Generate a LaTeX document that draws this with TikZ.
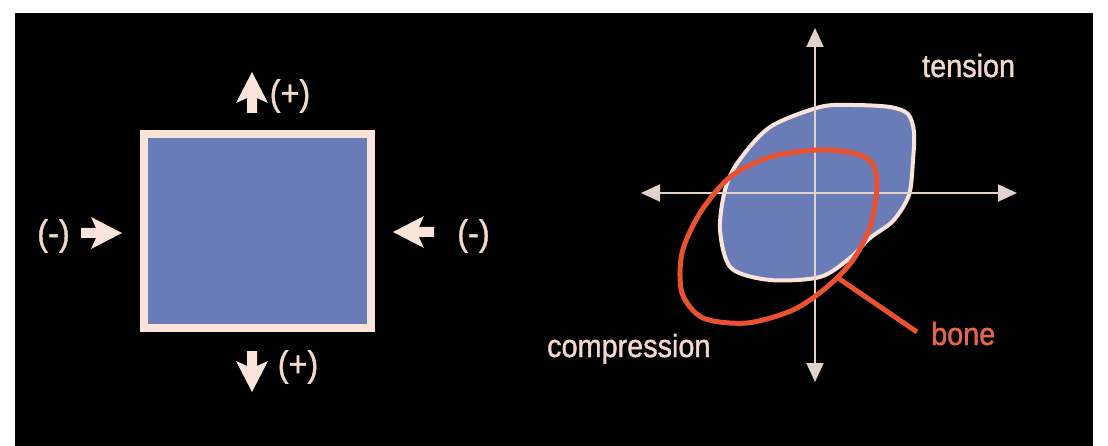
\documentclass[tikz,border=0pt]{standalone}
\usepackage{fontspec}
\setmainfont[FakeStretch=0.9,FakeBold=1.2]{Liberation Sans}
\usetikzlibrary{arrows.meta}
\definecolor{bluefill}{RGB}{106,124,184}
\definecolor{pale}{RGB}{250,228,218}
\definecolor{txt}{RGB}{242,216,204}
\definecolor{bonered}{RGB}{232,82,48}
\definecolor{bonetxt}{RGB}{226,104,72}
\definecolor{axiscol}{RGB}{225,210,202}
\begin{document}
\begin{tikzpicture}[x=1pt,y=-1pt,
  lbl/.style={text=txt,inner sep=0pt,font=\fontsize{32}{32}\selectfont},
  sign/.style={text=txt,inner sep=0pt,font=\fontsize{36}{36}\selectfont},
  axis/.style={draw=axiscol,line width=2pt,-{Triangle[length=19pt,width=17pt]}},
  pics/blockarrow/.style={code={
    \fill[pale] (0,0) -- (16,31) -- (5,26) -- (5,41) -- (-5,41) -- (-5,26) -- (-16,31) -- cycle;}}
]
\useasboundingbox (0,0) rectangle (1108,446);
\fill[black] (15,13) rectangle (1093,446);

% left panel
\node[draw=pale,line width=8pt,fill=bluefill,minimum width=227pt,minimum height=194pt,inner sep=0pt] (sq) at (257.5,231) {};
\pic at (252,72) {blockarrow};
\pic[rotate=180] at (252,392) {blockarrow};
\pic[rotate=-90] at (122,233) {blockarrow};
\pic[rotate=90] at (393,232) {blockarrow};
\node[sign] (ptop) at (290,96) {(+)};
\node[sign] (pbot) at (298,367) {(+)};
\node[sign] (mleft) at (53.5,236) {(-)};
\node[sign] (mright) at (473.5,236) {(-)};

% right panel
\fill[bluefill] plot[smooth cycle] coordinates {(820,107) (853,105) (890,107) (908,114) (914,132) (913,160) (909,195) (893,221) (870,238) (850,258) (820,277) (770,280) (731,268) (720,230) (725,190) (738,162) (770,127)};
\draw[pale,line width=4pt] plot[smooth cycle] coordinates {(820,107) (853,105) (890,107) (908,114) (914,132) (913,160) (909,195) (893,221) (870,238) (850,258) (820,277) (770,280) (731,268) (720,230) (725,190) (738,162) (770,127)};

\coordinate (xl) at (641,193);
\coordinate (xr) at (1017,193);
\coordinate (yt) at (815,28);
\coordinate (yb) at (815,382);
\coordinate (o) at (815,193);
\draw[axis] (o) -- (xl);
\draw[axis] (o) -- (xr);
\draw[axis] (o) -- (yt);
\draw[axis] (o) -- (yb);

\draw[bonered,line width=5pt] plot[smooth cycle] coordinates {(817,150) (853,153) (872,163) (877,187) (870,227) (853,260) (827,287) (793,310) (747,323) (703,318) (682,293) (682,253) (700,213) (730,177) (770,157)};
\coordinate (t0) at (838,278);
\coordinate (t1) at (917,332);
\draw[bonered,line width=5pt] (t0) -- (t1);

\node[lbl,anchor=base west] (tension) at (922,77) {tension};
\node[lbl,anchor=base west] (compression) at (547,357) {compression};
\node[lbl,anchor=base west,text=bonetxt] (bone) at (931,345) {bone};
\end{tikzpicture}
\end{document}
